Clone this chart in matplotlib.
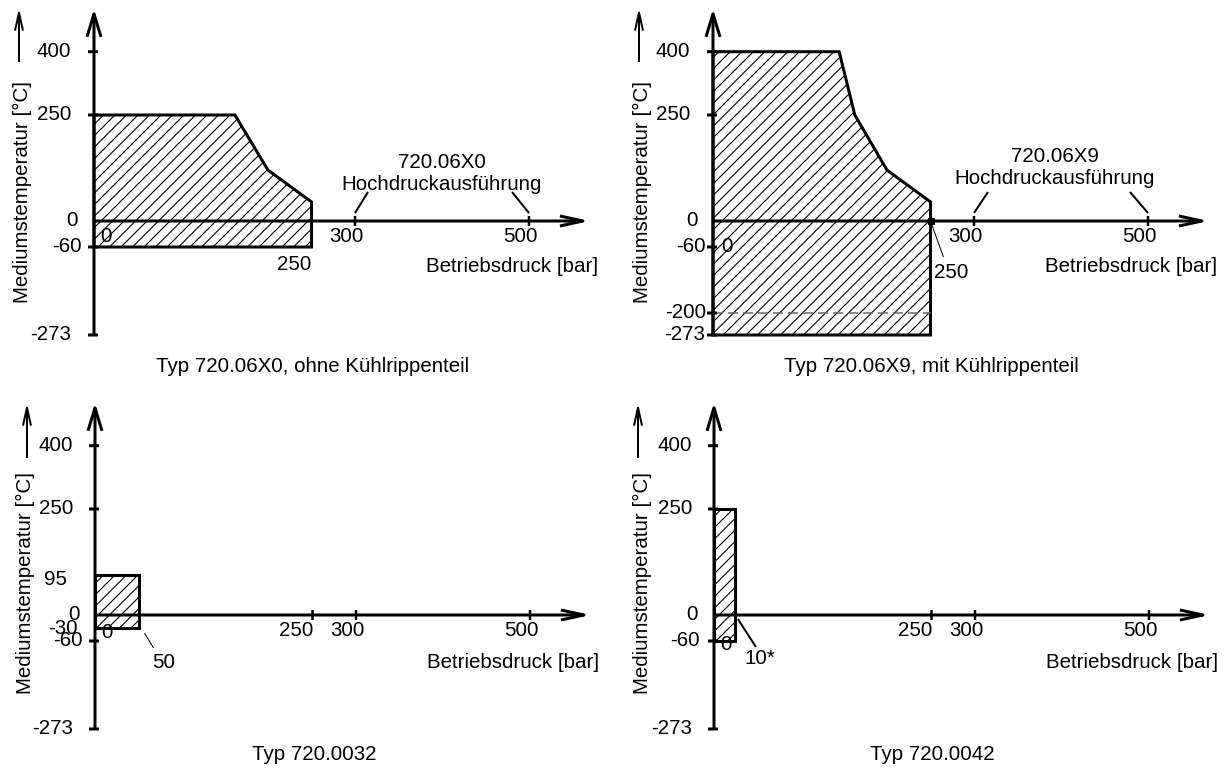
import numpy as np
import matplotlib
matplotlib.use('Agg')
import matplotlib.pyplot as plt
from matplotlib.patches import Polygon
from matplotlib.transforms import offset_copy

DPI = 69
W, H = 1231, 769


def px(n):
    # pixels -> points
    return n * 72 / DPI


plt.rcParams['font.family'] = ['Liberation Sans', 'DejaVu Sans']
plt.rcParams['font.size'] = px(20.5)
plt.rcParams['hatch.linewidth'] = px(1.1)
plt.rcParams['hatch.color'] = 'black'

# Betriebsdruck [bar] / Mediumstemperatur [°C]
P_06X0 = [0, 162, 200, 250, 250, 0]
T_06X0 = [250, 250, 120, 45, -60, -60]
P_06X9 = [0, 145, 163, 200, 250, 250, 0]
T_06X9 = [400, 400, 250, 120, 45, -273, -273]
T_LIMIT_06X9 = -200
P_0032 = [0, 50, 50, 0]
T_0032 = [95, 95, -30, -30]
P_0042 = [0, 24, 24, 0]   # drawn wider than scale, labelled 10*
T_0042 = [250, 250, -60, -60]

TITLES = ['Typ 720.06X0, ohne Kühlrippenteil', 'Typ 720.06X9, mit Kühlrippenteil',
          'Typ 720.0032', 'Typ 720.0042']
HD_TYPES = ['720.06X0', '720.06X9']
HD_TEXT = 'Hochdruckausführung'
YLABEL = 'Mediumstemperatur [°C]'
XLABEL = 'Betriebsdruck [bar]'

Y_TICKS = [[400, 250, 0, -60, -273],
           [400, 250, 0, -60, -200, -273],
           [400, 250, 95, 0, -30, -60, -273],
           [400, 250, 0, -60, -273]]
Y_MARKS = [[400, 250, -60, -273],
           [400, 250, -60, -200, -273],
           [400, 250, -60, -273],
           [400, 250, -60, -273]]
X_TICKS_TOP = [300, 500]
X_TICKS_BOTTOM = [250, 300, 500]

# temperature axis is not quite linear in the drawing
SCALE_T = [-800, -273, -200, -60, 0, 250, 400, 900]
SCALE_PX = [-335.3, -114, -92, -26, 0, 106, 169.3, 379.3]
PX_PER_BAR = 0.87


def fwd(v):
    return np.interp(v, SCALE_T, SCALE_PX)


def inv(p):
    return np.interp(p, SCALE_PX, SCALE_T)


fig = plt.figure(figsize=(W / DPI, H / DPI), dpi=DPI)


def make_axes(ox, oy):
    left, right = ox - 94, ox + 521
    top, bottom = oy - 221, oy + 159
    ax = fig.add_axes([left / W, 1 - bottom / H, (right - left) / W, (bottom - top) / H])
    ax.set_xlim(-94 / PX_PER_BAR, 521 / PX_PER_BAR)
    ax.set_yscale('function', functions=(fwd, inv))
    ax.set_ylim(inv(-159), inv(221))
    ax.axis('off')
    return ax


def shifted(ax, d):
    return offset_copy(ax.transData, x=d[0], y=d[1], units='dots')


def line(ax, p0, p1, d0=(0, 0), d1=(0, 0), lw=2, style='-', hl=0, hw=0):
    if style == '->':
        style = '->,head_length=%g,head_width=%g' % (px(hl), px(hw))
    ax.annotate('', xy=p1, xycoords=shifted(ax, d1), xytext=p0, textcoords=shifted(ax, d0),
                arrowprops=dict(arrowstyle=style, lw=px(lw), color='k', shrinkA=0, shrinkB=0,
                                mutation_scale=1, capstyle='butt'),
                annotation_clip=False)


def label(ax, s, x, y, dx, dy, ha='center', va='center', **kw):
    ax.annotate(s, xy=(x, y), xytext=(dx, dy), textcoords='offset pixels', ha=ha, va=va,
                annotation_clip=False, **kw)


def frame(ax, yticks, ymarks, ydx, xticks, ylab, yarrow, xlab_dy):
    # y axis with arrow
    line(ax, (0, -273), (0, 400), d0=(0, -1), d1=(0, 43), lw=3, style='->', hl=23, hw=7)
    # x axis with arrow
    line(ax, (0, 0), (500, 0), d1=(61, 0), lw=3, style='->', hl=23, hw=5)
    for v in ymarks:
        line(ax, (0, v), (0, v), d0=(-6, 0), d1=(4, 0), lw=3)
    for v, dx in zip(yticks, ydx):
        dy = -5 if v == 95 else 0
        label(ax, str(v), 0, v, dx, dy, ha='right')
    for p in xticks:
        line(ax, (p, 0), (p, 0), d0=(0, -5), d1=(0, 5), lw=2.5)
        if p == 250:
            label(ax, str(p), p, 0, 1, -16, ha='right')
        else:
            label(ax, str(p), p, 0, -9, -16)
    label(ax, YLABEL, 0, 0, ylab[0], ylab[1], rotation=90)
    line(ax, (0, 0), (0, 0), d0=(yarrow[0], yarrow[1]), d1=(yarrow[0], yarrow[2]),
         lw=2, style='->', hl=18, hw=4)
    label(ax, XLABEL, 0, 0, 504, xlab_dy, ha='right')


def hatched(ax, P, T):
    ax.add_patch(Polygon(np.column_stack([P, T]), closed=True, facecolor='none',
                         edgecolor='k', lw=px(3), hatch='//', joinstyle='miter'))


ax1 = make_axes(94, 221)
ax2 = make_axes(713, 221)
ax3 = make_axes(95, 615)
ax4 = make_axes(714, 615)

# Typ 720.06X0
hatched(ax1, P_06X0, T_06X0)
frame(ax1, Y_TICKS[0], Y_MARKS[0], [-23, -23, -16, -12, -23], X_TICKS_TOP,
      (-72, 29), (-75, 159, 213), -46)
label(ax1, '0', 0, 0, 12, -16)
label(ax1, '250', 250, 0, 0, -44, ha='right')
label(ax1, HD_TYPES[0], 0, 0, 348, 58)
label(ax1, HD_TEXT, 0, 0, 348, 37)
line(ax1, (300, 0), (300, 0), d0=(0, 8), d1=(13, 29), lw=2)
line(ax1, (500, 0), (500, 0), d0=(0, 8), d1=(-17, 29), lw=2)
label(ax1, TITLES[0], 0, 0, 219, -145)

# Typ 720.06X9
hatched(ax2, P_06X9, T_06X9)
ax2.plot([0, 250], [T_LIMIT_06X9, T_LIMIT_06X9], color='#666666', lw=px(1.5),
         dashes=(6.7, 3.3))
frame(ax2, Y_TICKS[1], Y_MARKS[1], [-23, -23, -15, -7, -7, -8], X_TICKS_TOP,
      (-71, 29), (-74, 159, 213), -46)
ax2.plot([250], [0], 's', color='k', ms=px(6))
label(ax2, '0', 0, 0, 14, -26)
label(ax2, '250', 250, 0, 21, -51)
line(ax2, (250, 0), (250, 0), d0=(1, -3), d1=(13, -36), lw=1)
label(ax2, HD_TYPES[1], 0, 0, 342, 64)
label(ax2, HD_TEXT, 0, 0, 342, 42)
line(ax2, (300, 0), (300, 0), d0=(0, 8), d1=(14, 29), lw=2)
line(ax2, (500, 0), (500, 0), d0=(0, 8), d1=(-18, 29), lw=2)
label(ax2, TITLES[1], 0, 0, 218, -145)

# Typ 720.0032
hatched(ax3, P_0032, T_0032)
frame(ax3, Y_TICKS[2], Y_MARKS[2], [-22, -22, -28, -15, -17, -12, -22], X_TICKS_BOTTOM,
      (-70, 32), (-68, 157, 212), -48)
label(ax3, '0', 0, 0, 12, -17)
label(ax3, '50', 50, -30, 25, -34)
line(ax3, (50, -30), (50, -30), d0=(6, -5), d1=(15, -20), lw=1)
label(ax3, TITLES[2], 0, 0, 219, -140)

# Typ 720.0042
hatched(ax4, P_0042, T_0042)
frame(ax4, Y_TICKS[3], Y_MARKS[3], [-22, -22, -16, -14, -22], X_TICKS_BOTTOM,
      (-72, 32), (-76, 157, 212), -48)
label(ax4, '0', 0, 0, 12, -29)
label(ax4, '10*', 24, 0, 25, -44)
line(ax4, (24, 0), (24, 0), d0=(3, -4), d1=(21, -32), lw=2)
label(ax4, TITLES[3], 0, 0, 218, -140)

fig.savefig('out.png', dpi=DPI, facecolor='white')
